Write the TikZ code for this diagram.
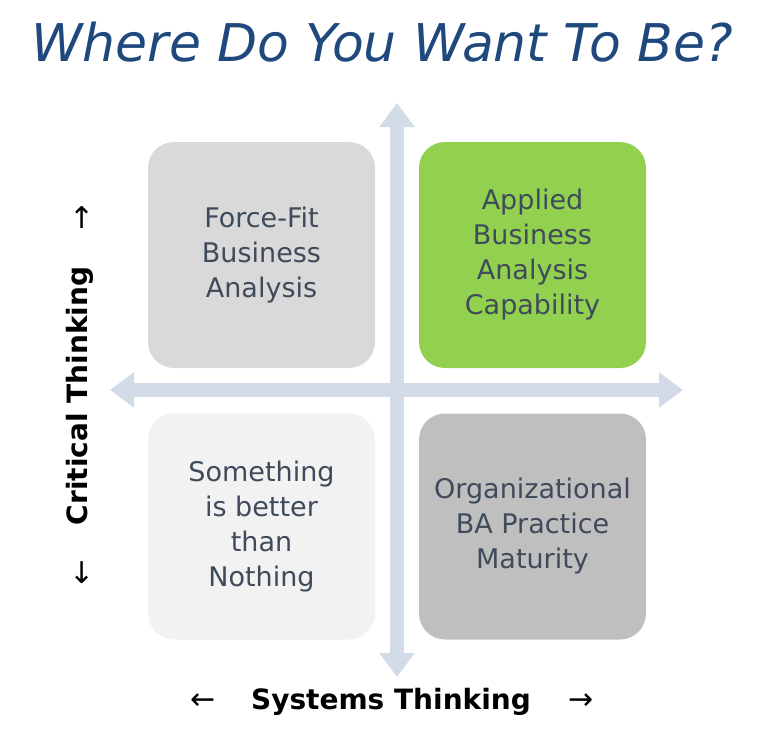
\documentclass[tikz,border=0pt]{standalone}
\usepackage{fontspec}
\setmainfont{DejaVu Sans}
\usetikzlibrary{arrows.meta}
\definecolor{titleblue}{HTML}{1F497D}
\definecolor{axis}{HTML}{D3DBE9}
\definecolor{boxtext}{HTML}{3F4B5A}
\begin{document}
\begin{tikzpicture}[x=1pt,y=-1pt,
  quad/.style={rounded corners=26pt,minimum width=227pt,minimum height=226pt,align=center,text=boxtext,font=\fontsize{27}{35}\selectfont,inner sep=0pt},
  axisarrow/.style={axis,line width=14pt,-{Triangle[width=34pt,length=24pt]}},
  lab/.style={font=\bfseries\fontsize{28}{32}\selectfont},
  arr/.style={font=\fontsize{30}{32}\selectfont}]
\useasboundingbox (0,0) rectangle (763,739);
\node (title) at (382,42) {\fontsize{52}{60}\selectfont\itshape\color{titleblue}Where Do You Want To Be?};
\coordinate (vtop) at (397,103);
\coordinate (vbot) at (397,677);
\coordinate (hl) at (110,390);
\coordinate (hr) at (683,390);
\coordinate (c) at (397,390);
\draw[axisarrow] (c) -- (vtop);
\draw[axisarrow] (c) -- (vbot);
\draw[axisarrow] (c) -- (hl);
\draw[axisarrow] (c) -- (hr);
\node[quad,fill={rgb,255:red,217;green,217;blue,217}] (tl) at (261.5,255) {Force-Fit\\Business\\Analysis};
\node[quad,fill={rgb,255:red,146;green,208;blue,80}] (tr) at (532.5,255) {Applied\\Business\\Analysis\\Capability};
\node[quad,fill={rgb,255:red,242;green,242;blue,242}] (bl) at (261.5,526.5) {Something\\is better\\than\\Nothing};
\node[quad,fill={rgb,255:red,191;green,191;blue,191}] (br) at (532.5,526.5) {Organizational\\BA Practice\\Maturity};
\node[lab,rotate=90] (ct) at (80,396) {Critical Thinking};
\node[arr] (ua) at (82,218) {↑};
\node[arr] (da) at (82,573) {↓};
\node[lab] (st) at (391,702) {Systems Thinking};
\node[arr] (la) at (203,702) {←};
\node[arr] (ra) at (581,702) {→};
\end{tikzpicture}
\end{document}
